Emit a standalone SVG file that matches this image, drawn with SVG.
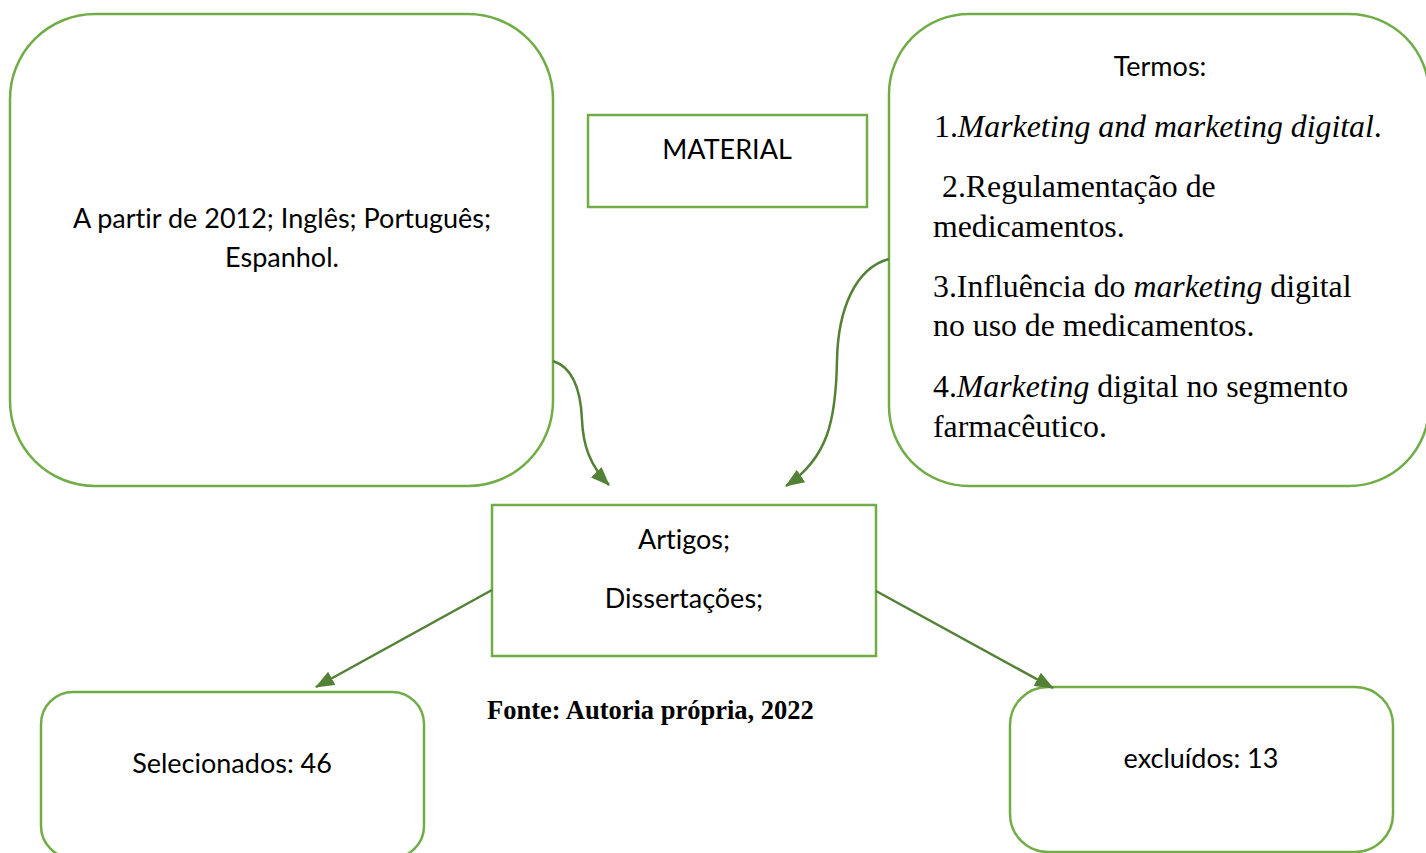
<svg xmlns="http://www.w3.org/2000/svg" width="1426" height="853" viewBox="0 0 1426 853">
<style>
.box{fill:#ffffff;stroke:#70AD47;stroke-width:2.5}
.sans{font-family:Lato,"Open Sans","Liberation Sans",sans-serif;font-size:27px;fill:#000;font-variant-ligatures:none}
.serif{font-family:"Liberation Serif","Times New Roman",serif;font-size:31.8px;fill:#000}
.it{font-style:italic}
.con{fill:none;stroke:#538135;stroke-width:2.5}
</style>
<defs>
<marker id="arr" viewBox="0 0 19 15" refX="18" refY="7.5" markerWidth="19" markerHeight="15" markerUnits="userSpaceOnUse" orient="auto">
<path d="M0,0 L19,7.5 L0,15 z" fill="#538135"/>
</marker>
</defs>
<rect width="1426" height="853" fill="#ffffff"/>
<g id="criterios">
<rect class="box" x="10" y="14" width="543" height="472" rx="85" ry="85"/>
<text class="sans" x="282" y="228" text-anchor="middle">A partir de 2012; Inglês; Português;</text>
<text class="sans" x="282" y="267" text-anchor="middle">Espanhol.</text>
</g>
<g id="material">
<rect class="box" x="588" y="115" width="279" height="92"/>
<text class="sans" x="727" y="159" text-anchor="middle">MATERIAL</text>
</g>
<g id="termos">
<rect class="box" x="889" y="14" width="540" height="472" rx="80" ry="80"/>
<text class="sans" x="1160" y="76" text-anchor="middle">Termos:</text>
<text class="serif" x="934" y="137">1.<tspan class="it">Marketing and marketing digital</tspan>.</text>
<text class="serif" x="942" y="197">2.Regulamentação de</text>
<text class="serif" x="933" y="237">medicamentos.</text>
<text class="serif" x="933" y="297">3.Influência do <tspan class="it">marketing</tspan> digital</text>
<text class="serif" x="933" y="336">no uso de medicamentos.</text>
<text class="serif" x="933" y="397">4.<tspan class="it">Marketing</tspan> digital no segmento</text>
<text class="serif" x="933" y="437">farmacêutico.</text>
</g>
<g id="artigos">
<rect class="box" x="492" y="505" width="384" height="151"/>
<text class="sans" x="684" y="549" text-anchor="middle">Artigos;</text>
<text class="sans" x="684" y="608" text-anchor="middle">Dissertações;</text>
</g>
<g id="selecionados">
<rect class="box" x="41" y="692" width="383" height="166" rx="32" ry="32"/>
<text class="sans" x="232" y="773" text-anchor="middle">Selecionados: 46</text>
</g>
<g id="excluidos">
<rect class="box" x="1010" y="687" width="383" height="165" rx="38" ry="38"/>
<text class="sans" x="1201" y="768" text-anchor="middle">excluídos: 13</text>
</g>
<g id="fonte">
<text x="487" y="719" style="font-family:'Liberation Serif','Times New Roman',serif;font-size:26.5px;font-weight:bold;fill:#000">Fonte: Autoria própria, 2022</text>
</g>
<g id="connectors">
<path class="con" d="M553,361 C575,368 581,395 582,420 C583,445 590,466 609,485" marker-end="url(#arr)"/>
<path class="con" d="M889,259 C855,268 838,310 837,360 C836,420 828,458 786,486" marker-end="url(#arr)"/>
<path class="con" d="M492,590 L316,687" marker-end="url(#arr)"/>
<path class="con" d="M876,591 L1053,688" marker-end="url(#arr)"/>
</g>
</svg>
